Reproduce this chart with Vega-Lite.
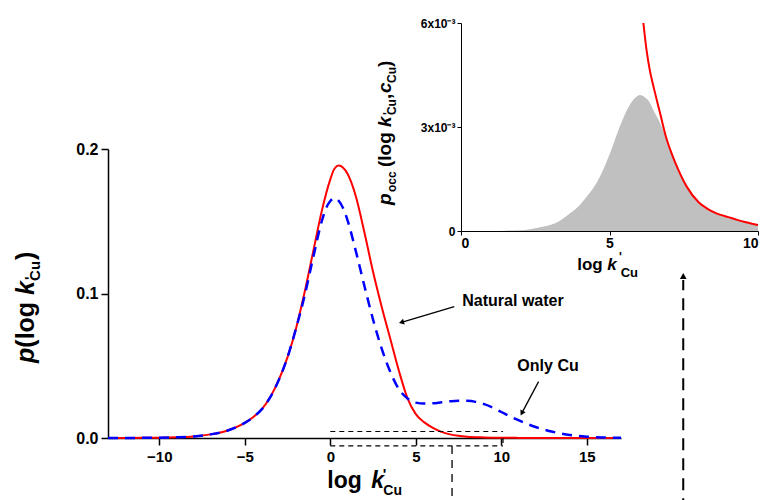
{
  "$schema": "https://vega.github.io/schema/vega-lite/v6.json",
  "width": 765,
  "height": 500,
  "autosize": {"type": "none"},
  "padding": 0,
  "background": "white",
  "config": {
    "view": {"stroke": null},
    "font": "Liberation Sans",
    "text": {"font": "Liberation Sans", "fontWeight": "bold", "color": "black", "align": "left", "baseline": "alphabetic"},
    "axis": {"grid": false, "labelFont": "Liberation Sans", "labelFontWeight": "bold", "labelColor": "black", "domainColor": "black", "tickColor": "black"}
  },
  "datasets": {
    "one": [{}],
    "red": [
      {"x": -13, "y": 0.00002}, {"x": -12, "y": 0.00005}, {"x": -11, "y": 0.0001}, {"x": -10, "y": 0.0002},
      {"x": -9, "y": 0.0005}, {"x": -8, "y": 0.0011}, {"x": -7, "y": 0.0025}, {"x": -6, "y": 0.0052},
      {"x": -5.5, "y": 0.0075}, {"x": -5, "y": 0.0105}, {"x": -4.5, "y": 0.0145}, {"x": -4, "y": 0.02},
      {"x": -3.5, "y": 0.0285}, {"x": -3, "y": 0.0405}, {"x": -2.5, "y": 0.056}, {"x": -2, "y": 0.076},
      {"x": -1.5, "y": 0.101}, {"x": -1, "y": 0.129}, {"x": -0.5, "y": 0.157}, {"x": 0, "y": 0.179},
      {"x": 0.25, "y": 0.1865}, {"x": 0.5, "y": 0.1885}, {"x": 0.75, "y": 0.187}, {"x": 1, "y": 0.183},
      {"x": 1.5, "y": 0.167}, {"x": 2, "y": 0.142}, {"x": 2.5, "y": 0.115}, {"x": 3, "y": 0.091},
      {"x": 3.5, "y": 0.069}, {"x": 4, "y": 0.047}, {"x": 4.5, "y": 0.028}, {"x": 5, "y": 0.0165},
      {"x": 5.5, "y": 0.0108}, {"x": 6, "y": 0.007}, {"x": 6.5, "y": 0.0042}, {"x": 7, "y": 0.0025},
      {"x": 7.5, "y": 0.0015}, {"x": 8, "y": 0.0009}, {"x": 9, "y": 0.0004}, {"x": 10, "y": 0.00017},
      {"x": 11, "y": 0.00008}, {"x": 12, "y": 0.00004}, {"x": 13, "y": 0.00002}, {"x": 15, "y": 0.00001},
      {"x": 17, "y": 0}
    ],
    "blue": [
      {"x": -13, "y": 0.00002}, {"x": -12, "y": 0.00005}, {"x": -11, "y": 0.0001}, {"x": -10, "y": 0.0002},
      {"x": -9, "y": 0.0005}, {"x": -8, "y": 0.0011}, {"x": -7, "y": 0.0025}, {"x": -6, "y": 0.0052},
      {"x": -5.5, "y": 0.0075}, {"x": -5, "y": 0.0105}, {"x": -4.5, "y": 0.0145}, {"x": -4, "y": 0.02},
      {"x": -3.5, "y": 0.0285}, {"x": -3, "y": 0.0405}, {"x": -2.5, "y": 0.056}, {"x": -2, "y": 0.076},
      {"x": -1.5, "y": 0.0985}, {"x": -1, "y": 0.125}, {"x": -0.5, "y": 0.15}, {"x": -0.25, "y": 0.159},
      {"x": 0, "y": 0.164}, {"x": 0.25, "y": 0.166}, {"x": 0.5, "y": 0.164}, {"x": 0.75, "y": 0.159},
      {"x": 1, "y": 0.151}, {"x": 1.5, "y": 0.129}, {"x": 2, "y": 0.105}, {"x": 2.5, "y": 0.082},
      {"x": 3, "y": 0.062}, {"x": 3.5, "y": 0.046}, {"x": 4, "y": 0.034}, {"x": 4.5, "y": 0.0275},
      {"x": 5, "y": 0.0245}, {"x": 5.5, "y": 0.0238}, {"x": 6, "y": 0.024}, {"x": 6.5, "y": 0.0247},
      {"x": 7, "y": 0.0254}, {"x": 7.5, "y": 0.0258}, {"x": 8, "y": 0.0257}, {"x": 8.5, "y": 0.025},
      {"x": 9, "y": 0.0234}, {"x": 9.5, "y": 0.021}, {"x": 10, "y": 0.018}, {"x": 10.5, "y": 0.015},
      {"x": 11, "y": 0.0123}, {"x": 11.5, "y": 0.0098}, {"x": 12, "y": 0.0076}, {"x": 12.5, "y": 0.0058},
      {"x": 13, "y": 0.0043}, {"x": 13.5, "y": 0.0031}, {"x": 14, "y": 0.0021}, {"x": 14.5, "y": 0.0014},
      {"x": 15, "y": 0.0009}, {"x": 15.5, "y": 0.0005}, {"x": 16, "y": 0.0003}, {"x": 17, "y": 0.0001}
    ],
    "occ": [
      {"x": 0, "y": 0}, {"x": 1, "y": 0.000002}, {"x": 1.5, "y": 0.00001}, {"x": 2, "y": 0.00002},
      {"x": 2.32, "y": 0.00005}, {"x": 2.5, "y": 0.00008}, {"x": 3, "y": 0.00017}, {"x": 3.3, "y": 0.00028},
      {"x": 3.67, "y": 0.00051}, {"x": 4, "y": 0.00075}, {"x": 4.23, "y": 0.00099}, {"x": 4.5, "y": 0.0013},
      {"x": 4.68, "y": 0.00157}, {"x": 5.02, "y": 0.00225}, {"x": 5.35, "y": 0.00302}, {"x": 5.69, "y": 0.00365},
      {"x": 5.85, "y": 0.00383}, {"x": 6.03, "y": 0.00392}, {"x": 6.2, "y": 0.00385}, {"x": 6.36, "y": 0.0037},
      {"x": 6.5, "y": 0.00345}, {"x": 6.7, "y": 0.00312}, {"x": 6.93, "y": 0.00262}, {"x": 7.1, "y": 0.0022},
      {"x": 7.3, "y": 0.00178}, {"x": 7.6, "y": 0.00126}, {"x": 8, "y": 0.00081}, {"x": 8.6, "y": 0.0005},
      {"x": 9.3, "y": 0.00031}, {"x": 10, "y": 0.00016}
    ],
    "redInset": [
      {"x": 6.14, "y": 0.006}, {"x": 6.25, "y": 0.0052}, {"x": 6.35, "y": 0.00467}, {"x": 6.5, "y": 0.0041},
      {"x": 6.7, "y": 0.00341}, {"x": 6.9, "y": 0.00272}, {"x": 7.1, "y": 0.00222}, {"x": 7.3, "y": 0.0018},
      {"x": 7.6, "y": 0.00128}, {"x": 8, "y": 0.00083}, {"x": 8.3, "y": 0.00064}, {"x": 8.6, "y": 0.00051},
      {"x": 9, "y": 0.0004}, {"x": 9.3, "y": 0.00032}, {"x": 9.6, "y": 0.00025}, {"x": 10, "y": 0.00017}
    ],
    "arrows": [
      {"x1": 7.25, "y1": 0.0909, "x2": 4.16, "y2": 0.0801},
      {"x1": 12.18, "y1": 0.039, "x2": 11.2, "y2": 0.0172}
    ],
    "thinDash": [
      {"x1": 0, "y1": 0.0045, "x2": 10.1, "y2": 0.0045},
      {"x1": 0, "y1": -0.0055, "x2": 10.1, "y2": -0.0055},
      {"x1": 10.1, "y1": 0, "x2": 10.1, "y2": -0.0055}
    ],
    "midDash": [
      {"x1": 7.12, "y1": -0.0055, "x2": 7.12, "y2": -0.05}
    ],
    "bigDash": [
      {"x1": 20.64, "y1": -0.05, "x2": 20.64, "y2": 0.1093}
    ]
  },
  "layer": [
    {
      "layer": [
        {
          "data": {"name": "red"},
          "mark": {"type": "line", "color": "#ff0000", "strokeWidth": 2, "interpolate": "monotone"},
          "encoding": {
            "x": {"field": "x", "type": "quantitative",
                  "scale": {"domain": [-13, 17], "range": [108, 621], "nice": false, "zero": false},
                  "axis": {"title": null, "orient": "bottom", "offset": -62, "values": [-10, -5, 0, 5, 10, 15], "labelFontSize": 15, "tickSize": 7, "tickWidth": 1.5, "domainWidth": 1.5, "labelPadding": 4}},
            "y": {"field": "y", "type": "quantitative",
                  "scale": {"domain": [0, 0.2], "range": [438, 149], "nice": false, "zero": false},
                  "axis": {"title": null, "orient": "left", "offset": -108, "values": [0, 0.1, 0.2], "format": ".1f", "labelFontSize": 16, "tickSize": 7, "tickWidth": 1.5, "domainWidth": 1.5, "labelPadding": 3}}
          }
        },
        {
          "data": {"name": "blue"},
          "mark": {"type": "line", "color": "#0000ff", "strokeWidth": 2.5, "strokeDash": [10, 7], "interpolate": "monotone"},
          "encoding": {
            "x": {"field": "x", "type": "quantitative"},
            "y": {"field": "y", "type": "quantitative"}
          }
        },
        {
          "data": {"name": "arrows"},
          "mark": {"type": "rule", "color": "black", "strokeWidth": 1.3},
          "encoding": {
            "x": {"field": "x1", "type": "quantitative"}, "x2": {"field": "x2"},
            "y": {"field": "y1", "type": "quantitative"}, "y2": {"field": "y2"}
          }
        },
        {
          "data": {"name": "thinDash"},
          "mark": {"type": "rule", "color": "black", "strokeWidth": 1.2, "strokeDash": [5, 4]},
          "encoding": {
            "x": {"field": "x1", "type": "quantitative"}, "x2": {"field": "x2"},
            "y": {"field": "y1", "type": "quantitative"}, "y2": {"field": "y2"}
          }
        },
        {
          "data": {"name": "midDash"},
          "mark": {"type": "rule", "color": "black", "strokeWidth": 1.3, "strokeDash": [8, 6]},
          "encoding": {
            "x": {"field": "x1", "type": "quantitative"}, "x2": {"field": "x2"},
            "y": {"field": "y1", "type": "quantitative"}, "y2": {"field": "y2"}
          }
        },
        {
          "data": {"name": "bigDash"},
          "mark": {"type": "rule", "color": "black", "strokeWidth": 2, "strokeDash": [12, 8]},
          "encoding": {
            "x": {"field": "x1", "type": "quantitative"}, "x2": {"field": "x2"},
            "y": {"field": "y1", "type": "quantitative"}, "y2": {"field": "y2"}
          }
        },
        {
          "data": {"name": "one"},
          "mark": {"type": "point", "shape": "triangle-up", "filled": true, "color": "black", "size": 35, "angle": 254, "opacity": 1},
          "encoding": {"x": {"datum": 4.16}, "y": {"datum": 0.0801}}
        },
        {
          "data": {"name": "one"},
          "mark": {"type": "point", "shape": "triangle-up", "filled": true, "color": "black", "size": 35, "angle": 208, "opacity": 1},
          "encoding": {"x": {"datum": 11.2}, "y": {"datum": 0.0172}}
        },
        {
          "data": {"name": "one"},
          "mark": {"type": "point", "shape": "triangle-up", "filled": true, "color": "black", "size": 45, "angle": 0, "opacity": 1},
          "encoding": {"x": {"datum": 20.64}, "y": {"datum": 0.1121}}
        },
        {
          "data": {"name": "one"},
          "mark": {"type": "text", "text": "Natural water", "fontSize": 16},
          "encoding": {"x": {"datum": 7.72}, "y": {"datum": 0.0913}}
        },
        {
          "data": {"name": "one"},
          "mark": {"type": "text", "text": "Only Cu", "fontSize": 16},
          "encoding": {"x": {"datum": 10.94}, "y": {"datum": 0.0464}}
        },
        {
          "data": {"name": "one"},
          "mark": {"type": "text", "text": "log", "fontSize": 23},
          "encoding": {"x": {"datum": -0.175}, "y": {"datum": -0.0346}}
        },
        {
          "data": {"name": "one"},
          "mark": {"type": "text", "text": "k", "fontSize": 23, "fontStyle": "italic"},
          "encoding": {"x": {"datum": 2.4}, "y": {"datum": -0.0346}}
        },
        {
          "data": {"name": "one"},
          "mark": {"type": "text", "text": "'", "fontSize": 15},
          "encoding": {"x": {"datum": 3.06}, "y": {"datum": -0.0284}}
        },
        {
          "data": {"name": "one"},
          "mark": {"type": "text", "text": "Cu", "fontSize": 14},
          "encoding": {"x": {"datum": 3.1}, "y": {"datum": -0.0394}}
        },
        {
          "data": {"name": "one"},
          "mark": {"type": "text", "text": "p", "fontSize": 25, "fontStyle": "italic", "angle": 270},
          "encoding": {"x": {"datum": -17.31}, "y": {"datum": 0.0519}}
        },
        {
          "data": {"name": "one"},
          "mark": {"type": "text", "text": "(log", "fontSize": 25, "angle": 270},
          "encoding": {"x": {"datum": -17.31}, "y": {"datum": 0.0625}}
        },
        {
          "data": {"name": "one"},
          "mark": {"type": "text", "text": "k", "fontSize": 25, "fontStyle": "italic", "angle": 270},
          "encoding": {"x": {"datum": -17.31}, "y": {"datum": 0.099}}
        },
        {
          "data": {"name": "one"},
          "mark": {"type": "text", "text": "'", "fontSize": 15, "angle": 270},
          "encoding": {"x": {"datum": -17.25}, "y": {"datum": 0.1093}}
        },
        {
          "data": {"name": "one"},
          "mark": {"type": "text", "text": "Cu", "fontSize": 15, "angle": 270},
          "encoding": {"x": {"datum": -17.0}, "y": {"datum": 0.1087}}
        },
        {
          "data": {"name": "one"},
          "mark": {"type": "text", "text": ")", "fontSize": 25, "angle": 270},
          "encoding": {"x": {"datum": -17.31}, "y": {"datum": 0.1232}}
        },
        {
          "data": {"name": "one"},
          "mark": {"type": "text", "text": "log", "fontSize": 17},
          "encoding": {"x": {"datum": 14.44}, "y": {"datum": 0.1163}}
        },
        {
          "data": {"name": "one"},
          "mark": {"type": "text", "text": "k", "fontSize": 17, "fontStyle": "italic"},
          "encoding": {"x": {"datum": 16.2}, "y": {"datum": 0.1163}}
        },
        {
          "data": {"name": "one"},
          "mark": {"type": "text", "text": "'", "fontSize": 12},
          "encoding": {"x": {"datum": 16.88}, "y": {"datum": 0.1225}}
        },
        {
          "data": {"name": "one"},
          "mark": {"type": "text", "text": "Cu", "fontSize": 13},
          "encoding": {"x": {"datum": 16.98}, "y": {"datum": 0.1114}}
        },
        {
          "data": {"name": "one"},
          "mark": {"type": "text", "text": "p", "fontSize": 19, "fontStyle": "italic", "angle": 270},
          "encoding": {"x": {"datum": 3.567}, "y": {"datum": 0.1612}}
        },
        {
          "data": {"name": "one"},
          "mark": {"type": "text", "text": "occ", "fontSize": 12, "angle": 270},
          "encoding": {"x": {"datum": 3.86}, "y": {"datum": 0.1702}}
        },
        {
          "data": {"name": "one"},
          "mark": {"type": "text", "text": "(log", "fontSize": 19, "angle": 270},
          "encoding": {"x": {"datum": 3.567}, "y": {"datum": 0.1875}}
        },
        {
          "data": {"name": "one"},
          "mark": {"type": "text", "text": "k", "fontSize": 19, "fontStyle": "italic", "angle": 270},
          "encoding": {"x": {"datum": 3.567}, "y": {"datum": 0.2152}}
        },
        {
          "data": {"name": "one"},
          "mark": {"type": "text", "text": "'", "fontSize": 12, "angle": 270},
          "encoding": {"x": {"datum": 3.626}, "y": {"datum": 0.2235}}
        },
        {
          "data": {"name": "one"},
          "mark": {"type": "text", "text": "Cu", "fontSize": 12, "angle": 270},
          "encoding": {"x": {"datum": 3.86}, "y": {"datum": 0.2235}}
        },
        {
          "data": {"name": "one"},
          "mark": {"type": "text", "text": ",", "fontSize": 19, "angle": 270},
          "encoding": {"x": {"datum": 3.567}, "y": {"datum": 0.2346}}
        },
        {
          "data": {"name": "one"},
          "mark": {"type": "text", "text": "c", "fontSize": 19, "fontStyle": "italic", "angle": 270},
          "encoding": {"x": {"datum": 3.567}, "y": {"datum": 0.2388}}
        },
        {
          "data": {"name": "one"},
          "mark": {"type": "text", "text": "Cu", "fontSize": 12, "angle": 270},
          "encoding": {"x": {"datum": 3.86}, "y": {"datum": 0.2457}}
        },
        {
          "data": {"name": "one"},
          "mark": {"type": "text", "text": ")", "fontSize": 19, "angle": 270},
          "encoding": {"x": {"datum": 3.567}, "y": {"datum": 0.2567}}
        }
      ]
    },
    {
      "layer": [
        {
          "data": {"name": "occ"},
          "mark": {"type": "area", "color": "#c0c0c0", "opacity": 1, "interpolate": "monotone"},
          "encoding": {
            "x": {"field": "x", "type": "quantitative",
                  "scale": {"domain": [0, 10], "range": [461, 758], "nice": false, "zero": false},
                  "axis": {"title": null, "orient": "bottom", "offset": -269, "values": [0, 5, 10], "format": "d", "labelFontSize": 14, "tickSize": 4, "tickWidth": 1, "domainWidth": 1, "labelPadding": 1}},
            "y": {"field": "y", "type": "quantitative",
                  "scale": {"domain": [0, 0.006], "range": [231, 23], "nice": false, "zero": false},
                  "axis": {"title": null, "orient": "left", "offset": -461, "values": [0, 0.003, 0.006], "labelExpr": "datum.value == 0 ? '0' : format(datum.value * 1000, 'd') + 'x10⁻³'", "labelFontSize": 12, "tickSize": 4, "tickWidth": 1, "domainWidth": 1, "labelPadding": 2}}
          }
        },
        {
          "data": {"name": "redInset"},
          "mark": {"type": "line", "color": "#ff0000", "strokeWidth": 2, "interpolate": "monotone"},
          "encoding": {
            "x": {"field": "x", "type": "quantitative"},
            "y": {"field": "y", "type": "quantitative"}
          }
        }
      ]
    }
  ],
  "resolve": {
    "scale": {"x": "independent", "y": "independent"},
    "axis": {"x": "independent", "y": "independent"}
  }
}
